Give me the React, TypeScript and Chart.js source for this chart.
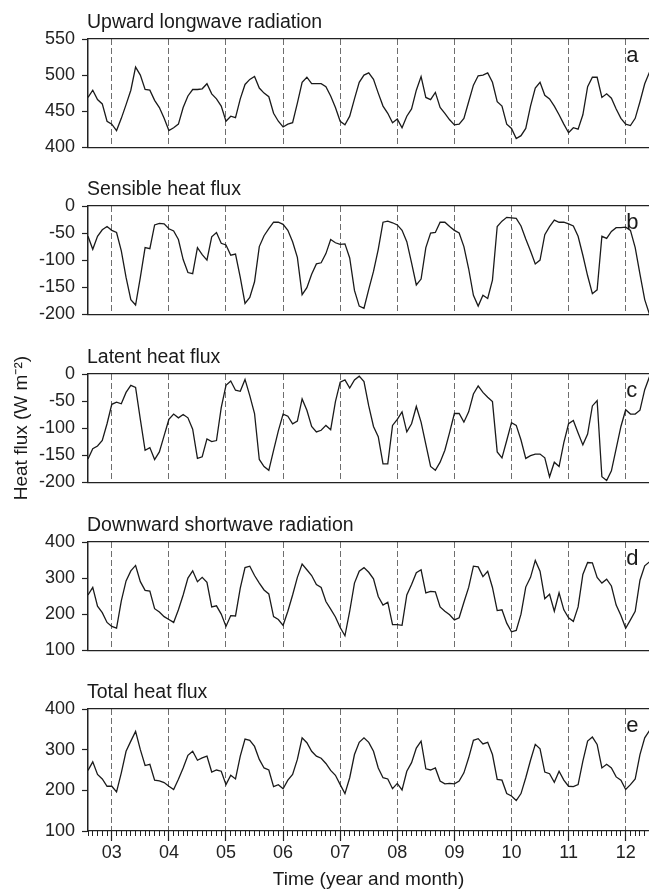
import React, { useEffect, useRef } from 'react';
import { Chart, registerables } from 'chart.js';

Chart.register(...registerables);

const FONT = "'Liberation Sans', Arial, Helvetica, sans-serif";

// x positions: months since January 2003 (Aug 2002 .. Jun 2012)
const months = Array.from({ length: 119 }, (_, i) => i - 5);
const monthTicks = Array.from({ length: 118 }, (_, i) => i - 5);
const yearTicks = [0, 12, 24, 36, 48, 60, 72, 84, 96, 108];
const yearLabels = ['03', '04', '05', '06', '07', '08', '09', '10', '11', '12'];
const X_MIN = -5;
const X_MAX = 112.9;

const upwardLongwave = [
  469, 479, 466, 460, 436, 432, 423, 440, 459, 479, 511, 500,
  480, 479, 465, 455, 440, 423, 427, 432, 455, 471, 480, 480,
  481, 488, 474, 467, 457, 436, 443, 441, 467, 487, 494, 498,
  482, 475, 470, 447, 436, 428, 432, 434, 461, 490, 497, 488,
  488, 488, 484, 471, 455, 436, 431, 443, 467, 490, 500, 503,
  494, 475, 457, 447, 434, 439, 427, 443, 453, 479, 498, 469,
  466, 476, 455, 447, 438, 431, 432, 440, 463, 486, 499, 500,
  503, 490, 463, 457, 432, 426, 412, 416, 426, 457, 482, 490,
  472, 467, 457, 445, 432, 420, 427, 425, 445, 484, 497, 497,
  469, 474, 468, 453, 440, 432, 430, 440, 463, 488, 504,
];

const sensibleHeat = [
  -56, -80, -56, -44, -38, -45, -49, -83, -132, -173, -183, -132,
  -77, -79, -35, -32, -33, -42, -46, -62, -99, -123, -125, -77,
  -90, -100, -57, -49, -69, -72, -91, -89, -132, -180, -169, -140,
  -75, -55, -42, -30, -30, -34, -45, -66, -95, -164, -151, -126,
  -107, -105, -88, -62, -68, -71, -70, -96, -156, -185, -189, -154,
  -121, -80, -30, -28, -31, -35, -45, -66, -105, -146, -135, -77,
  -50, -49, -30, -30, -38, -45, -50, -75, -116, -165, -185, -165,
  -171, -137, -38, -28, -21, -22, -23, -37, -61, -83, -107, -100,
  -53, -38, -26, -30, -30, -33, -37, -56, -91, -129, -162, -155,
  -56, -60, -47, -40, -40, -39, -45, -77, -126, -173, -200,
];

const latentHeat = [
  -157, -138, -133, -123, -92, -56, -52, -55, -34, -21, -25, -84,
  -141, -136, -158, -144, -114, -84, -74, -81, -75, -81, -102, -156,
  -153, -120, -125, -123, -62, -21, -13, -30, -32, -10, -40, -73,
  -158, -171, -178, -141, -105, -74, -78, -92, -87, -46, -67, -97,
  -107, -104, -95, -103, -51, -15, -11, -26, -11, -4, -14, -59,
  -97, -116, -166, -166, -95, -84, -70, -107, -92, -60, -89, -130,
  -171, -178, -163, -141, -108, -73, -73, -89, -70, -37, -22, -34,
  -43, -51, -144, -155, -123, -90, -95, -122, -156, -151, -148, -148,
  -155, -190, -163, -171, -127, -92, -86, -109, -131, -111, -59, -49,
  -190, -197, -179, -138, -97, -66, -74, -74, -67, -29, -5,
];

const downwardShortwave = [
  253, 274, 222, 204, 177, 166, 161, 237, 292, 320, 335, 290,
  266, 264, 215, 206, 193, 185, 177, 212, 253, 300, 320, 290,
  302, 288, 220, 223, 200, 166, 196, 195, 272, 329, 333, 307,
  286, 267, 256, 193, 185, 169, 208, 253, 302, 339, 323, 307,
  282, 274, 235, 214, 192, 163, 140, 208, 286, 319, 329, 316,
  298, 249, 225, 233, 171, 171, 169, 253, 282, 315, 323, 259,
  263, 262, 220, 208, 198, 184, 190, 233, 274, 333, 331, 304,
  319, 274, 210, 212, 175, 151, 155, 200, 275, 302, 349, 319,
  243, 255, 208, 259, 212, 190, 180, 220, 310, 343, 342, 302,
  286, 297, 278, 225, 196, 161, 184, 208, 294, 334, 345,
];

const totalHeat = [
  249, 270, 239, 228, 210, 210, 196, 243, 296, 321, 345, 300,
  261, 264, 225, 223, 219, 210, 202, 227, 255, 286, 296, 274,
  280, 284, 245, 250, 247, 214, 237, 228, 284, 326, 323, 308,
  276, 255, 250, 209, 214, 204, 225, 239, 276, 329, 317, 296,
  284, 279, 266, 249, 237, 214, 192, 231, 288, 318, 329, 318,
  296, 255, 231, 228, 204, 217, 201, 247, 268, 304, 321, 253,
  250, 255, 223, 216, 217, 216, 223, 243, 280, 323, 327, 314,
  318, 288, 227, 225, 192, 186, 175, 192, 231, 274, 313, 302,
  245, 241, 220, 247, 225, 210, 209, 214, 272, 321, 331, 313,
  255, 264, 255, 233, 225, 202, 214, 228, 288, 329, 347,
];

const panelTitles = [
  'Upward longwave radiation',
  'Sensible heat flux',
  'Latent heat flux',
  'Downward shortwave radiation',
  'Total heat flux',
];
const panelLetters = ['a', 'b', 'c', 'd', 'e'];
const panelSeries = [upwardLongwave, sensibleHeat, latentHeat, downwardShortwave, totalHeat];
const panelRanges = [
  [400, 550, 50],
  [-200, 0, 50],
  [-200, 0, 50],
  [100, 400, 100],
  [100, 400, 100],
];
const yAxisTitle = 'Heat flux (W m\u207B\u00B2)';
const xAxisTitle = 'Time (year and month)';

const PLOT_TOPS = [39, 206, 374, 542, 709];
const TOP_PAD = 39;
const PLOT_H = 122;
const W = 649;

const labelPlugin = {
  id: 'panelLabels',
  afterDraw(chart: any, _args: any, opts: any) {
    const { ctx, chartArea } = chart;
    const xs = chart.scales.x;
    ctx.save();
    ctx.fillStyle = '#1a1a1a';
    ctx.textAlign = 'left';
    ctx.textBaseline = 'alphabetic';
    ctx.font = `19.5px ${FONT}`;
    ctx.fillText(opts.title, chartArea.left - 1, chartArea.top - 11);
    ctx.font = `22px ${FONT}`;
    ctx.fillText(opts.letter, xs.getPixelForValue(108) + 0.5, chartArea.top + 23);
    ctx.restore();
  },
};

function Panel({ index }: { index: number }) {
  const ref = useRef<HTMLCanvasElement | null>(null);
  const isBottom = index === 4;
  const canvasTop = PLOT_TOPS[index] - TOP_PAD;
  const height = isBottom ? 892 - canvasTop : TOP_PAD + PLOT_H + 4;

  useEffect(() => {
    if (!ref.current) return;
    const values = panelSeries[index];
    const [yMin, yMax, yStep] = panelRanges[index];
    const scales: any = {
      x: {
        type: 'linear',
        min: X_MIN,
        max: X_MAX,
        position: 'bottom',
        weight: 1,
        afterBuildTicks: (s: any) => {
          s.ticks = yearTicks.map((v) => ({ value: v }));
        },
        ticks: {
          display: isBottom,
          autoSkip: false,
          maxRotation: 0,
          padding: 1,
          color: '#222',
          font: { family: FONT, size: 18 },
          callback: (v: number) => {
            const k = yearTicks.indexOf(v);
            return k >= 0 ? yearLabels[k] : '';
          },
        },
        grid: {
          drawOnChartArea: true,
          color: '#6e6e6e',
          lineWidth: 1,
          drawTicks: isBottom,
          tickLength: 10,
          tickColor: '#222',
          tickWidth: 1.2,
        },
        border: { display: true, color: '#222', width: 1.3, dash: [6, 3] },
        title: isBottom
          ? {
              display: true,
              text: xAxisTitle,
              color: '#1a1a1a',
              font: { family: FONT, size: 19 },
              padding: { top: 0, bottom: 1 },
            }
          : { display: false },
        afterFit: isBottom
          ? (s: any) => {
              s.height = height - TOP_PAD - PLOT_H;
            }
          : undefined,
      },
      xt: {
        type: 'linear',
        min: X_MIN,
        max: X_MAX,
        position: 'top',
        ticks: { display: false },
        grid: { display: false },
        border: { display: true, color: '#222', width: 1.3 },
        afterFit: (s: any) => {
          s.height = 0;
        },
      },
      y: {
        type: 'linear',
        min: yMin,
        max: yMax,
        position: 'left',
        ticks: {
          stepSize: yStep,
          padding: 7,
          color: '#222',
          font: { family: FONT, size: 18 },
          callback: (v: number) => String(v),
        },
        grid: {
          drawOnChartArea: false,
          drawTicks: true,
          tickLength: 6,
          tickColor: '#222',
          tickWidth: 1.2,
          color: '#222',
        },
        border: { display: true, color: '#222', width: 1.5 },
        title:
          index === 2
            ? {
                display: true,
                text: yAxisTitle,
                color: '#1a1a1a',
                font: { family: FONT, size: 19 },
                padding: { top: 10, bottom: 0 },
              }
            : { display: false },
        afterFit: (s: any) => {
          s.width = 88;
        },
      },
    };
    if (isBottom) {
      scales.xm = {
        type: 'linear',
        min: X_MIN,
        max: X_MAX,
        position: 'bottom',
        weight: 0,
        afterBuildTicks: (s: any) => {
          s.ticks = monthTicks.map((v) => ({ value: v }));
        },
        ticks: { display: false },
        grid: {
          drawOnChartArea: false,
          drawTicks: true,
          tickLength: 5,
          tickColor: '#222',
          tickWidth: 1,
          color: '#222',
        },
        border: { display: false },
        afterFit: (s: any) => {
          s.height = 0;
        },
      };
    }

    const chart = new Chart(ref.current, {
      type: 'line',
      data: {
        datasets: [
          {
            data: months.map((m, i) => ({ x: m, y: values[i] })),
            borderColor: '#1a1a1a',
            borderWidth: 1.3,
            pointRadius: 0,
            tension: 0,
            fill: false,
            xAxisID: 'x',
            yAxisID: 'y',
          },
        ],
      },
      options: {
        responsive: false,
        animation: false,
        devicePixelRatio: 1,
        events: [],
        layout: { padding: { top: TOP_PAD, left: 0, right: 0, bottom: isBottom ? 0 : 4 } },
        plugins: {
          legend: { display: false },
          tooltip: { enabled: false },
          panelLabels: { title: panelTitles[index], letter: panelLetters[index] },
        } as any,
        scales,
      },
      plugins: [labelPlugin as any],
    });
    return () => chart.destroy();
  }, [index, height, isBottom]);

  return (
    <canvas
      ref={ref}
      width={W}
      height={height}
      style={{ position: 'absolute', left: 0, top: canvasTop, width: W, height }}
    />
  );
}

export default function App() {
  return (
    <div
      style={{
        position: 'absolute',
        left: 0,
        top: 0,
        width: W,
        height: 892,
        background: '#ffffff',
        overflow: 'hidden',
      }}
    >
      {[0, 1, 2, 3, 4].map((i) => (
        <Panel key={i} index={i} />
      ))}
    </div>
  );
}
